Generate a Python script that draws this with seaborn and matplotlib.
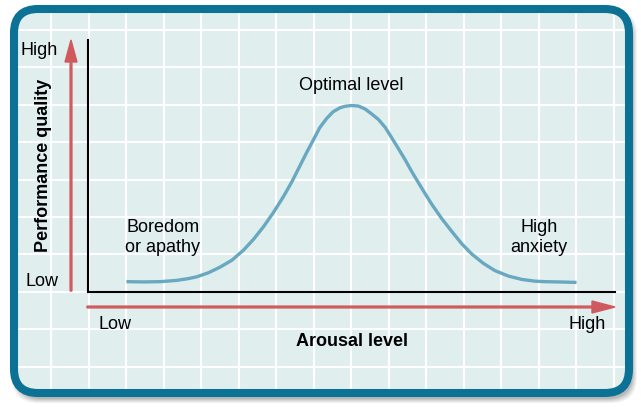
## Arousal vs performance (Yerkes-Dodson style curve)

import seaborn as sns
import matplotlib.pyplot as plt
import pandas as pd
import numpy as np
from matplotlib.patches import FancyBboxPatch

###################################################################################################

## values, both axes on a 0-10 scale
arousal = [0.73, 1.05, 1.37, 1.68, 1.90, 2.06, 2.28, 2.50, 2.73, 2.95, 3.14, 3.33, 3.52, 3.71,
           3.87, 4.02, 4.15, 4.28, 4.40, 4.53, 4.65, 4.78, 4.88, 5.00, 5.13, 5.26, 5.38, 5.51,
           5.64, 5.76, 5.89, 6.02, 6.14, 6.33, 6.52, 6.71, 6.90, 7.09, 7.28, 7.50, 7.72, 7.98,
           8.23, 8.48, 8.67, 8.92, 9.27]
performance = [0.41, 0.40, 0.41, 0.46, 0.53, 0.60, 0.76, 0.98, 1.26, 1.66, 2.09, 2.59, 3.16, 3.79,
               4.38, 5.00, 5.54, 6.05, 6.53, 6.89, 7.15, 7.31, 7.37, 7.40, 7.38, 7.26, 7.07, 6.85,
               6.53, 6.13, 5.69, 5.24, 4.79, 4.13, 3.49, 2.92, 2.41, 1.92, 1.51, 1.14, 0.85, 0.63,
               0.50, 0.43, 0.41, 0.40, 0.38]

zone_labels = ["Boredom\nor apathy", "Optimal level", "High\nanxiety"]
end_labels = ["Low", "High"]
x_title = "Arousal level"
y_title = "Performance quality"

data = pd.DataFrame({'arousal': arousal, 'performance': performance})

###################################################################################################

W, H = 641, 407
fig = plt.figure(figsize=(W / 100, H / 100), dpi=100)
fig.patch.set_facecolor('white')

# background axes in pixel units for the framed card
bg = fig.add_axes([0, 0, 1, 1])
bg.set_xlim(0, W)
bg.set_ylim(H, 0)
bg.axis('off')

border = '#0b7296'
red = '#cf5a5d'
font = 'Liberation Sans'

# soft shadow
for i, a in enumerate([0.05, 0.05, 0.06, 0.07, 0.08]):
    g = 5 - i
    bg.add_patch(FancyBboxPatch((14 + 3 - g, 9 + 5 - g), 615 + 2 * g, 384 + 2 * g,
                                boxstyle="round,pad=0,rounding_size=26",
                                facecolor='black', edgecolor='none', alpha=a, zorder=1))

card = FancyBboxPatch((14, 9), 615, 384, boxstyle="round,pad=0,rounding_size=24",
                      facecolor='#e0eeee', edgecolor='none', zorder=2)
bg.add_patch(card)

for gx in np.arange(13.5, 630, 37.5):
    ln = bg.axvline(gx, color='white', lw=1.6, zorder=3)
    ln.set_clip_path(card)
for gy in np.arange(30, 400, 37.4):
    ln = bg.axhline(gy, color='white', lw=1.6, zorder=3)
    ln.set_clip_path(card)

bg.add_patch(FancyBboxPatch((14, 9), 615, 384, boxstyle="round,pad=0,rounding_size=24",
                            facecolor='none', edgecolor=border, lw=5.8, zorder=4))

# red direction arrows
bg.arrow(71, 291, 0, -251, width=1.8, head_width=12, head_length=22,
         length_includes_head=True, color=red, zorder=5)
bg.arrow(87, 307, 528, 0, width=1.8, head_width=12, head_length=23,
         length_includes_head=True, color=red, zorder=5)

# axis end labels and titles
bg.text(39.5, 55, end_labels[1], ha='center', va='baseline', fontsize=13, family=font, zorder=6)
bg.text(42, 286, end_labels[0], ha='center', va='baseline', fontsize=13, family=font, zorder=6)
bg.text(115, 329, end_labels[0], ha='center', va='baseline', fontsize=13, family=font, zorder=6)
bg.text(587, 329, end_labels[1], ha='center', va='baseline', fontsize=13, family=font, zorder=6)
bg.text(352, 346, x_title, ha='center', va='baseline', fontsize=13, fontweight='bold',
        family=font, zorder=6)
bg.text(48, 165, y_title, ha='center', va='baseline', rotation=90, rotation_mode='anchor',
        fontsize=13, fontweight='bold', family=font, zorder=6)

###################################################################################################

## the plot itself
ax = fig.add_axes([88 / W, 1 - 292 / H, 527 / W, 252 / H])
ax.set_facecolor('none')
sns.lineplot(x='arousal', y='performance', data=data, ax=ax, color='#68a8c0', lw=2.4,
             solid_capstyle='butt', solid_joinstyle='round')
ax.set_xlim(0, 10)
ax.set_ylim(0, 10)
ax.set_xticks([])
ax.set_yticks([])
ax.set_xlabel('')
ax.set_ylabel('')
for s in ['top', 'right']:
    ax.spines[s].set_visible(False)
for s in ['left', 'bottom']:
    ax.spines[s].set_color('black')
    ax.spines[s].set_linewidth(1.5)

peak = data['performance'].idxmax()
ax.text(data['arousal'][peak], 8.02, zone_labels[1], ha='center', va='baseline',
        fontsize=13, family=font)
for lab, xpos in [(zone_labels[0], 1.42), (zone_labels[2], 8.56)]:
    top, bottom = lab.split('\n')
    ax.text(xpos, 2.38, top, ha='center', va='baseline', fontsize=13, family=font)
    ax.text(xpos, 1.59, bottom, ha='center', va='baseline', fontsize=13, family=font)

fig.savefig('out.png', dpi=100)
